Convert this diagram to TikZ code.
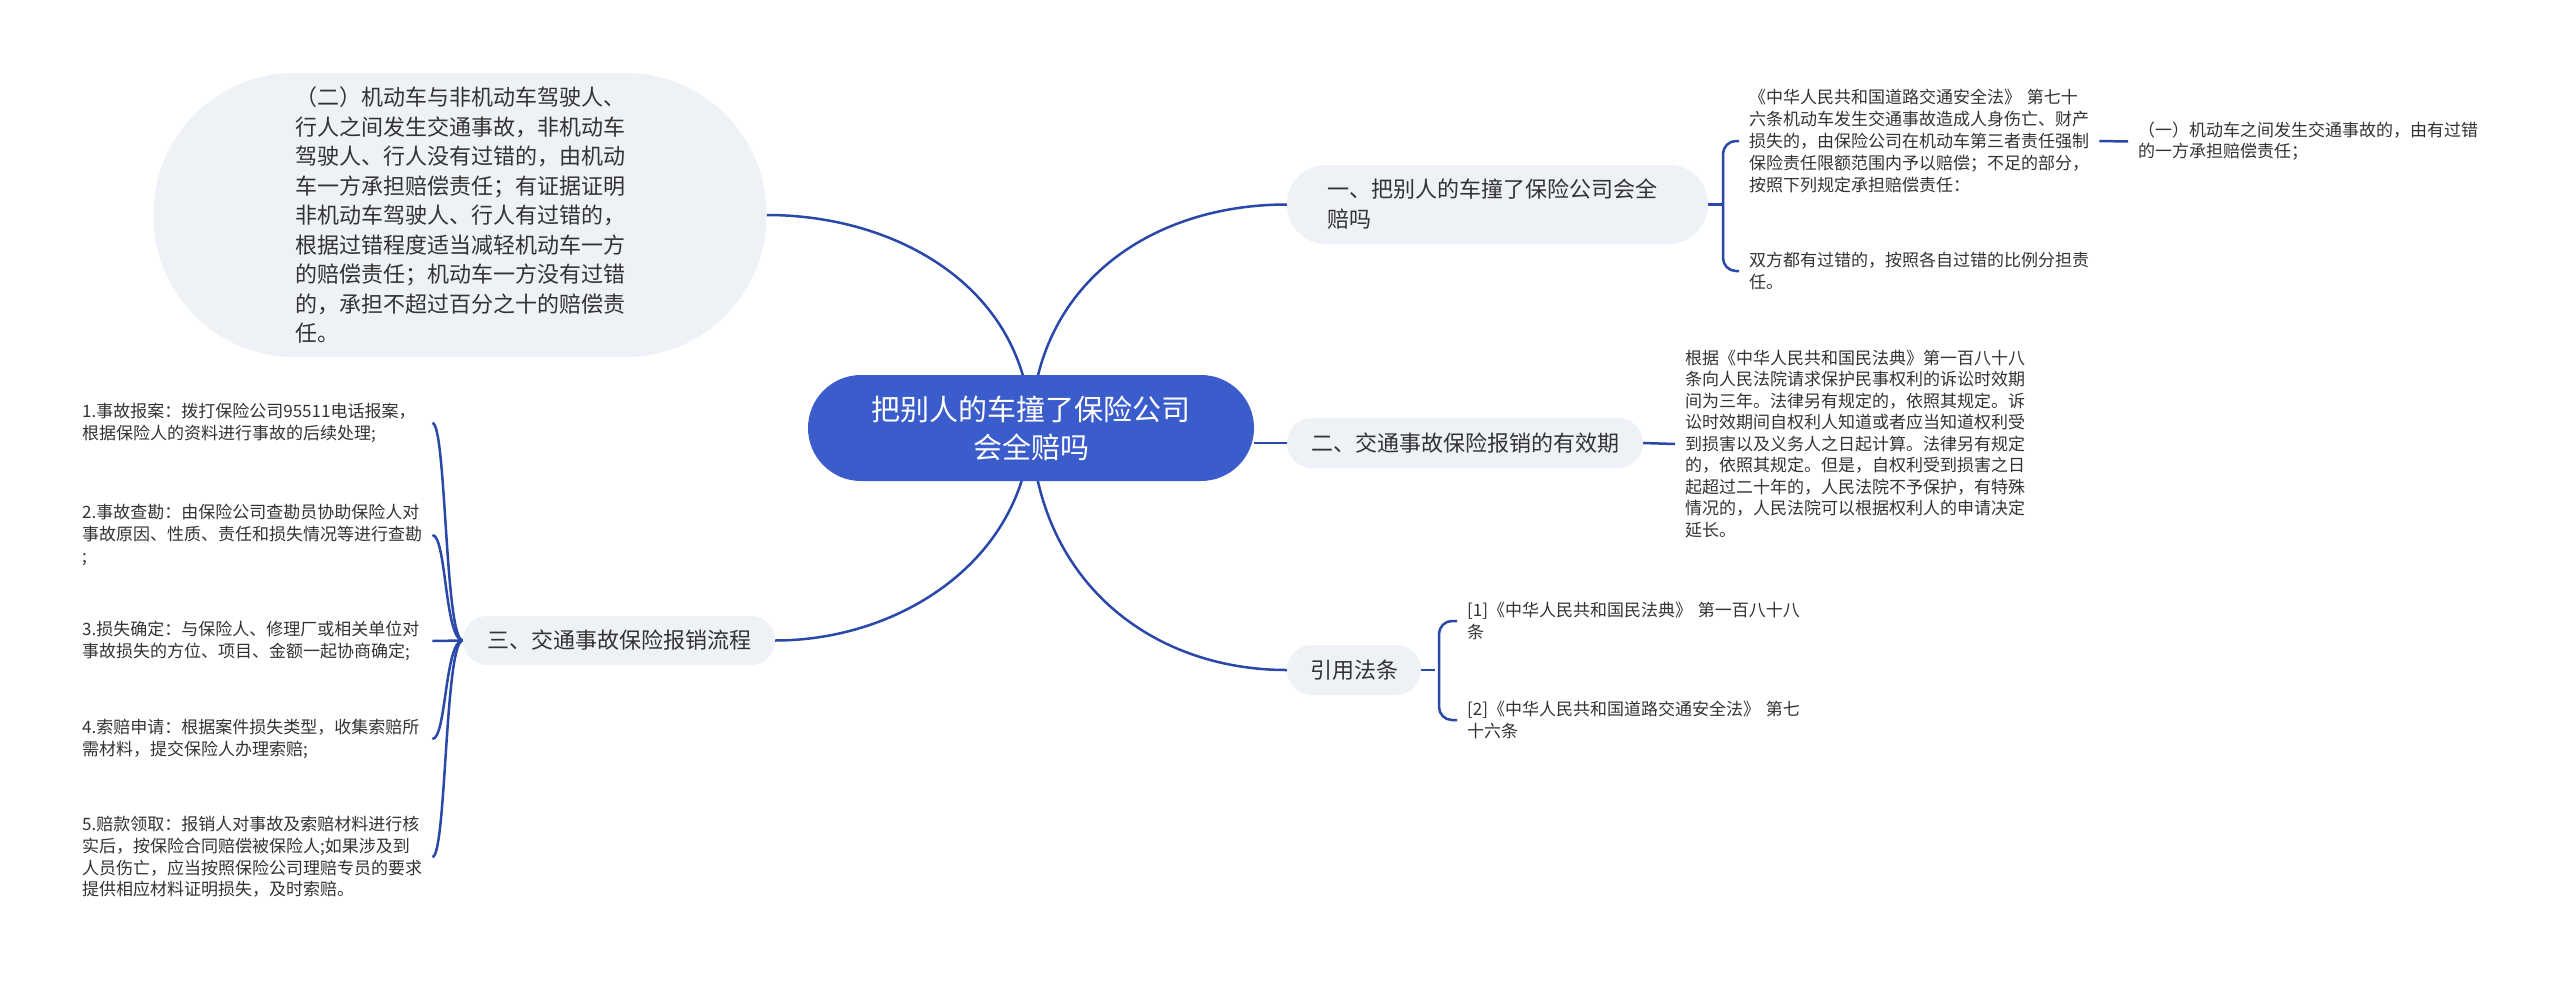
\documentclass[tikz,border=0pt]{standalone}
\usepackage{fontspec}
\setmainfont{Noto Sans CJK SC}
\definecolor{linec}{HTML}{2A47AA}
\definecolor{cenc}{HTML}{3B5CCB}
\definecolor{grayc}{HTML}{EEF1F5}
\definecolor{txtc}{HTML}{333333}
\pgfdeclarelayer{bottom}
\pgfdeclarelayer{lines}
\pgfsetlayers{bottom,lines,main}
\begin{document}
\begin{tikzpicture}[x=1pt,y=-1pt,
  conn/.style={draw=linec,line width=2.5pt},
  cennode/.style={fill=cenc,text=white,inner sep=0pt,rounded corners=53pt,
    minimum width=446pt,minimum height=106pt,align=center,
    font=\fontsize{29}{38}\selectfont},
  topic/.style={fill=grayc,text=txtc,inner sep=0pt,
    font=\fontsize{22}{30}\selectfont},
  leaf/.style={text=txtc,inner sep=0pt,anchor=west,text width=350pt,align=left,
    font=\fontsize{17}{21.8}\selectfont}]
\useasboundingbox (0,0) rectangle (2560,983);
\begin{pgfonlayer}{bottom}
  \fill[white] (0,0) rectangle (2560,983);
\end{pgfonlayer}

% central and main topics
\node[cennode] (cen) at (1031,428) {把别人的车撞了保险公司\\会全赔吗};
\node[topic,rounded corners=141pt,minimum width=613pt,minimum height=284pt,
  text width=330pt,align=left,font=\fontsize{22}{29.5}\selectfont] (bub) at (460,215)
  {（二）机动车与非机动车驾驶人、\\行人之间发生交通事故，非机动车\\驾驶人、行人没有过错的，由机动\\车一方承担赔偿责任；有证据证明\\非机动车驾驶人、行人有过错的，\\根据过错程度适当减轻机动车一方\\的赔偿责任；机动车一方没有过错\\的，承担不超过百分之十的赔偿责\\任。};
\node[topic,rounded corners=39pt,minimum width=421pt,minimum height=79pt,
  text width=341pt,align=left] (b1) at (1497.5,204.5)
  {一、把别人的车撞了保险公司会全\\赔吗};
\node[topic,rounded corners=25pt,minimum width=356pt,minimum height=50pt] (b2) at (1465,443)
  {二、交通事故保险报销的有效期};
\node[topic,rounded corners=24.5pt,minimum width=312pt,minimum height=49pt] (b3) at (619,640.5)
  {三、交通事故保险报销流程};
\node[topic,rounded corners=25pt,minimum width=134pt,minimum height=50pt] (b4) at (1354,670)
  {引用法条};

% leaves of branch 1
\node[leaf] (l1a) at (1749,141) {《中华人民共和国道路交通安全法》 第七十\\六条机动车发生交通事故造成人身伤亡、财产\\损失的，由保险公司在机动车第三者责任强制\\保险责任限额范围内予以赔偿；不足的部分，\\按照下列规定承担赔偿责任：};
\node[leaf] (l1b) at (1749,271) {双方都有过错的，按照各自过错的比例分担责\\任。};
\node[leaf,font=\fontsize{17}{21}\selectfont] (ly) at (2138,141.5) {（一）机动车之间发生交通事故的，由有过错\\的一方承担赔偿责任；};

% leaf of branch 2
\node[leaf,font=\fontsize{17}{21.5}\selectfont] (l2) at (1685,444) {根据《中华人民共和国民法典》第一百八十八\\条向人民法院请求保护民事权利的诉讼时效期\\间为三年。法律另有规定的，依照其规定。诉\\讼时效期间自权利人知道或者应当知道权利受\\到损害以及义务人之日起计算。法律另有规定\\的，依照其规定。但是，自权利受到损害之日\\起超过二十年的，人民法院不予保护，有特殊\\情况的，人民法院可以根据权利人的申请决定\\延长。};

% leaves of 引用法条
\node[leaf] (r1) at (1467,621) {[1]《中华人民共和国民法典》 第一百八十八\\条};
\node[leaf] (r2) at (1467,720) {[2]《中华人民共和国道路交通安全法》 第七\\十六条};

% leaves of branch 3
\node[leaf] (s1) at (82,423) {1.事故报案：拨打保险公司95511电话报案，\\根据保险人的资料进行事故的后续处理;};
\node[leaf] (s2) at (82,535) {2.事故查勘：由保险公司查勘员协助保险人对\\事故原因、性质、责任和损失情况等进行查勘\\;};
\node[leaf] (s3) at (82,641) {3.损失确定：与保险人、修理厂或相关单位对\\事故损失的方位、项目、金额一起协商确定;};
\node[leaf] (s4) at (82,739) {4.索赔申请：根据案件损失类型，收集索赔所\\需材料，提交保险人办理索赔;};
\node[leaf] (s5) at (82,857) {5.赔款领取：报销人对事故及索赔材料进行核\\实后，按保险合同赔偿被保险人;如果涉及到\\人员伤亡，应当按照保险公司理赔专员的要求\\提供相应材料证明损失，及时索赔。};

\begin{pgfonlayer}{lines}
  % central connectors
  \draw[conn] (cen.center) .. controls +(-4,-138) and +(133,0) .. (bub.east);
  \draw[conn] (cen.center) .. controls +(4,-143) and +(-137,0) .. (b1.west);
  \draw[conn] (cen.center) .. controls +(-6,132) and +(125,0) .. (b3.east);
  \draw[conn] (cen.center) .. controls +(6,152) and +(-137,0) .. (b4.west);
  \draw[conn] (cen.east |- b2.west) -- (b2.west);
  % branch 1
  \draw[conn] (b1.east) -- ++(15,0);
  \draw[conn,rounded corners=13pt] ([xshift=-10pt]l1a.west) -| ([xshift=-26pt]l1b.west) -- ([xshift=-10pt]l1b.west);
  \draw[conn] ([xshift=0pt]l1a.east) -- ([xshift=-10pt]ly.west);
  % branch 2
  \draw[conn] (b2.east) -- ([xshift=-10pt]l2.west);
  % 引用法条
  \draw[conn] (b4.east) -- ++(14,0);
  \draw[conn,rounded corners=13pt] ([xshift=-10pt]r1.west) -| ([xshift=-28pt]r2.west) -- ([xshift=-10pt]r2.west);
  % branch 3
  \foreach \s in {s1,s2,s4,s5}{
    \draw[conn] (b3.west) .. controls +(-18,0) and +(14,0) .. (\s.east);
  }
  \draw[conn] (b3.west) -- (s3.east);
\end{pgfonlayer}
\end{tikzpicture}
\end{document}
